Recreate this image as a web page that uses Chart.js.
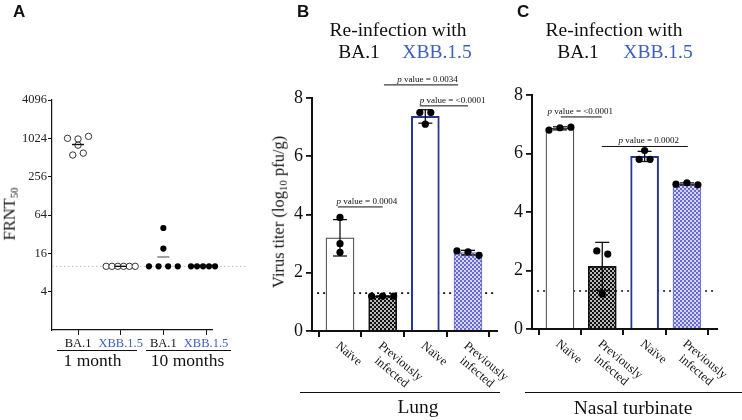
<!DOCTYPE html>
<html>
<head>
<meta charset="utf-8">
<script src="https://cdn.jsdelivr.net/npm/chart.js@4.4.1/dist/chart.umd.min.js"></script>
<style>
  body { margin: 0; background: #fff; }
  #wrap { position: relative; width: 742px; height: 420px; overflow: hidden; font-family: "Liberation Serif", serif; }
  #wrap canvas { position: absolute; left: 0; top: 0; }
  .t { position: absolute; white-space: nowrap; line-height: 1; color: #111; }
  .panel { font-family: "Liberation Sans", Arial, sans-serif; font-weight: bold; }
  .blue { color: #3f5fbf; }
  .rule { position: absolute; height: 0; border-top: 1.5px solid #111; }
  sub { font-size: 65%; vertical-align: -0.25em; line-height: 0; }
</style>
</head>
<body>
<div id="wrap">
  <canvas id="chartA" width="742" height="420"></canvas>
  <canvas id="chartB" width="742" height="420"></canvas>
  <canvas id="chartC" width="742" height="420"></canvas>
</div>
<script>
// ---- data ----
const groupsA = ['BA.1', 'XBB.1.5', 'BA.1', 'XBB.1.5'];
const periodsA = ['1 month', '10 months'];
const frntBA1_1m = [1024, 560, 1000, 800, 600, 1100];
const frntXBB_1m = [10, 10, 10, 10, 10, 10];
const frntBA1_10m = [10, 10, 10, 10, 40, 19];
const frntXBB_10m = [10, 10, 10, 10, 10, 10];
const frntTicks = [4, 16, 64, 256, 1024, 4096];
const frntLimit = 10;

const titerGroups = ['Naïve', 'Previously infected', 'Naïve', 'Previously infected'];
const lungNaiveBA1 = [3.9, 3.0, 2.7];
const lungPrevBA1 = [1.2, 1.2, 1.2];
const lungNaiveXBB = [7.5, 7.5, 7.1];
const lungPrevXBB = [2.75, 2.72, 2.6];
const nasalNaiveBA1 = [6.8, 6.88, 6.9];
const nasalPrevBA1 = [2.67, 2.56, 1.2];
const nasalNaiveXBB = [5.8, 6.1, 5.8];
const nasalPrevXBB = [4.95, 5.0, 4.93];
const titerTicks = [0, 2, 4, 6, 8];
const titerLimit = 1.3;
const lungPValues = ['0.0004', '0.0034', '<0.0001'];
const nasalPValues = ['<0.0001', '0.0002'];

// ---- helpers ----
const BLUE = '#3f5fbf';
const SERIF = '"Liberation Serif", serif';
const mean = a => a.reduce((s, v) => s + v, 0) / a.length;
const sd = a => { const m = mean(a); return Math.sqrt(a.reduce((s, v) => s + (v - m) ** 2, 0) / (a.length - 1)); };
const gmean = a => Math.exp(mean(a.map(Math.log)));

// spread points with near-equal values sideways (simple column scatter)
function spread(values, key, tol, step) {
  const clusters = [];
  const slots = values.map(v => {
    const k = key(v);
    let c = clusters.find(c => c.some(m => Math.abs(m - k) <= tol));
    if (!c) { c = []; clusters.push(c); }
    c.push(k);
    return [c, c.length - 1];
  });
  return slots.map(([c, j]) => (j - (c.length - 1) / 2) * step);
}

function pad(area, yW, xH) {
  return { left: area[0] - yW, top: area[1], right: 742 - area[2], bottom: 420 - area[3] - xH };
}

function checker(canvasId, fg, bg) {
  const c = document.createElement('canvas');
  c.width = c.height = 4;
  const g = c.getContext('2d');
  if (bg) { g.fillStyle = bg; g.fillRect(0, 0, 4, 4); }
  g.fillStyle = fg;
  g.fillRect(0, 0, 2, 2);
  g.fillRect(2, 2, 2, 2);
  return document.getElementById(canvasId).getContext('2d').createPattern(c, 'repeat');
}

function txt(html, x, base, size, cls, align) {
  const d = document.createElement('div');
  d.className = 't ' + (cls || '');
  d.innerHTML = html;
  d.style.fontSize = size + 'px';
  d.style.left = x + 'px';
  d.style.top = (base - 0.84 * size) + 'px';
  if (align !== 'left') d.style.transform = 'translateX(-50%)';
  document.getElementById('wrap').appendChild(d);
}
function vtxt(html, cx, cy, size) {
  const d = document.createElement('div');
  d.className = 't';
  d.innerHTML = html;
  d.style.fontSize = size + 'px';
  d.style.left = cx + 'px';
  d.style.top = cy + 'px';
  d.style.transform = 'translate(-50%, -50%) rotate(-90deg)';
  document.getElementById('wrap').appendChild(d);
}
function rule(x1, x2, y) {
  const d = document.createElement('div');
  d.className = 'rule';
  d.style.left = x1 + 'px';
  d.style.width = (x2 - x1) + 'px';
  d.style.top = y + 'px';
  document.getElementById('wrap').appendChild(d);
}

const axisGrid = (len, w) => ({ display: true, drawOnChartArea: false, drawTicks: true, tickLength: len, color: '#111', lineWidth: w });

// ---- panel A ----
const pxA = 42.67;
const stepsA = [10.5, 5.8, 9.6, 6].map(p => p / pxA);
const seriesA = [frntBA1_1m, frntXBB_1m, frntBA1_10m, frntXBB_10m];
const pointsA = seriesA.map((vals, g) => {
  const off = spread(vals, v => Math.log2(v), 0.2, stepsA[g]);
  return vals.map((v, i) => ({ x: g + off[i], y: v }));
});

new Chart(document.getElementById('chartA'), {
  type: 'scatter',
  data: {
    datasets: [
      { data: seriesA.map((v, g) => ({ x: g, y: gmean(v) })), pointStyle: 'line', pointRadius: 6,
        pointBorderWidth: 1.4, pointBorderColor: ['#111', '#111', '#777', '#111'], clip: false },
      { data: pointsA[0].concat(pointsA[1]), pointRadius: 3.2, pointBackgroundColor: '#fff',
        pointBorderColor: '#333', pointBorderWidth: 1, clip: false },
      { data: pointsA[2].concat(pointsA[3]), pointRadius: 3.1, pointBackgroundColor: '#000',
        pointBorderColor: '#000', pointBorderWidth: 0, clip: false },
      { type: 'line', data: [{ x: -0.61, y: frntLimit }, { x: 3.98, y: frntLimit }], borderColor: '#bbb',
        borderWidth: 1, borderDash: [1.5, 2.5], pointRadius: 0, clip: false }
    ]
  },
  options: {
    responsive: false, animation: false,
    layout: { padding: pad([52, 100, 212, 330], 40, 30) },
    plugins: { legend: { display: false }, tooltip: { enabled: false } },
    scales: {
      x: {
        type: 'linear', min: -0.61, max: 3.14,
        afterBuildTicks: s => { s.ticks = [0, 1, 2, 3].map(v => ({ value: v })); },
        afterFit: s => { s.height = 30; },
        ticks: { autoSkip: false, maxRotation: 0, padding: 1, callback: (v, i) => groupsA[i],
          color: c => (c.index % 2 ? BLUE : '#111'), font: { family: SERIF, size: 12.5 } },
        grid: axisGrid(5, 1), border: { color: '#111', width: 1.2 }
      },
      y: {
        type: 'logarithmic', min: 1, max: 4096,
        afterBuildTicks: s => { s.ticks = frntTicks.map(v => ({ value: v })); },
        afterFit: s => { s.width = 40; },
        ticks: { callback: v => String(v), padding: 1, color: '#222', font: { family: SERIF, size: 12.5 } },
        grid: axisGrid(4, 1), border: { color: '#111', width: 1.2 }
      }
    }
  }
});

// ---- panels B and C ----
const titerLabels = {
  id: 'titerLabels',
  afterDraw(chart, args, opts) {
    const { ctx, chartArea } = chart;
    const x = chart.scales.x, y = chart.scales.y;
    ctx.save();
    ctx.fillStyle = '#111';
    ctx.textBaseline = 'alphabetic';
    ctx.font = '12.5px ' + SERIF;
    titerGroups.forEach((g, i) => {
      const lines = g.split(' ');
      const w = Math.max(...lines.map(l => ctx.measureText(l).width));
      ctx.save();
      ctx.translate(x.getPixelForValue(i) + 1, chartArea.bottom + 9);
      ctx.rotate(40 * Math.PI / 180);
      ctx.textAlign = 'center';
      lines.forEach((l, j) => ctx.fillText(l, w / 2, 9 + j * 14));
      ctx.restore();
    });
    opts.brackets.forEach(b => {
      const x1 = x.getPixelForValue(b.x1), x2 = x.getPixelForValue(b.x2), py = y.getPixelForValue(b.y);
      ctx.strokeStyle = '#111';
      ctx.lineWidth = 1;
      ctx.beginPath(); ctx.moveTo(x1, py); ctx.lineTo(x2, py); ctx.stroke();
      const rest = ' value = ' + b.label;
      ctx.font = 'italic 9px ' + SERIF;
      const wp = ctx.measureText('p').width;
      ctx.font = '9px ' + SERIF;
      const wr = ctx.measureText(rest).width;
      const sx = x.getPixelForValue(b.tx) - (wp + wr) / 2;
      ctx.textAlign = 'left';
      ctx.font = 'italic 9px ' + SERIF;
      ctx.fillText('p', sx, py - 3);
      ctx.font = '9px ' + SERIF;
      ctx.fillText(rest, sx + wp, py - 3);
    });
    ctx.restore();
  }
};

function titerChart(id, area, xMin, xMax, series, brackets) {
  const step = 11 / 42.5;
  const dots = [];
  series.forEach((vals, g) => {
    const off = spread(vals, v => v, 0.25, step);
    vals.forEach((v, i) => dots.push({ x: g + off[i], y: v }));
  });
  const errBars = series.map((vals, g) => {
    const m = mean(vals), s = sd(vals);
    return { type: 'line', data: [{ x: g, y: m - s }, { x: g, y: m + s }], borderColor: '#111', borderWidth: 1.3,
      pointStyle: 'line', pointRadius: 7, pointBorderWidth: 1.3, pointBorderColor: '#111', clip: false };
  });
  new Chart(document.getElementById(id), {
    type: 'scatter',
    data: {
      datasets: [
        { data: dots, pointRadius: 3.6, pointBackgroundColor: '#000', pointBorderWidth: 0, clip: false },
        ...errBars,
        { type: 'bar', data: series.map((v, g) => ({ x: g, y: mean(v) })), barThickness: 28,
          backgroundColor: ['#fff', checker(id, '#111', 'rgba(0,0,0,0.28)'), '#fff', checker(id, '#6a6ad4', '#d4d4f4')],
          borderColor: ['#444', '#111', '#2a3399', '#6a6ac8'], borderWidth: [1.2, 1, 2, 1] },
        { type: 'line', data: [{ x: xMin + 0.12, y: titerLimit }, { x: xMax, y: titerLimit }], borderColor: '#111',
          borderWidth: 1.6, borderDash: [2, 4], pointRadius: 0 }
      ]
    },
    options: {
      responsive: false, animation: false,
      layout: { padding: pad(area, 50, 20) },
      plugins: { legend: { display: false }, tooltip: { enabled: false }, titerLabels: { brackets } },
      scales: {
        x: {
          type: 'linear', min: xMin, max: xMax, offset: false,
          afterBuildTicks: s => { s.ticks = [0, 1, 2, 3].map(v => ({ value: v })); },
          afterFit: s => { s.height = 20; },
          ticks: { display: false },
          grid: axisGrid(6, 2), border: { color: '#111', width: 2 }
        },
        y: {
          min: 0, max: 8,
          afterBuildTicks: s => { s.ticks = titerTicks.map(v => ({ value: v })); },
          afterFit: s => { s.width = 50; },
          ticks: { padding: 3, color: '#111', font: { family: SERIF, size: 18 } },
          grid: axisGrid(6, 1.8), border: { color: '#111', width: 2 }
        }
      }
    },
    plugins: [titerLabels]
  });
}

titerChart('chartB', [312, 98, 497, 331], -0.656, 3.68,
  [lungNaiveBA1, lungPrevBA1, lungNaiveXBB, lungPrevXBB],
  [{ x1: -0.05, x2: 1.0, y: 4.26, tx: 0.63 }, { x1: 1.03, x2: 2.77, y: 8.45, tx: 2.05 }, { x1: 1.87, x2: 3.0, y: 7.73, tx: 2.64 }]
    .map((b, i) => ({ ...b, label: lungPValues[i] })));

titerChart('chartC', [532, 95, 717, 329], -0.66, 3.71,
  [nasalNaiveBA1, nasalPrevBA1, nasalNaiveXBB, nasalPrevXBB],
  [{ x1: 0.02, x2: 0.99, y: 7.25, tx: 0.48 }, { x1: 0.99, x2: 3.02, y: 6.24, tx: 2.1 }]
    .map((b, i) => ({ ...b, label: nasalPValues[i] })));

// ---- free text ----
txt('A', 13, 17.2, 17, 'panel', 'left');
txt('B', 297, 17.2, 17, 'panel', 'left');
txt('C', 517, 17.2, 17, 'panel', 'left');

txt('Re-infection with', 398, 36, 19.5);
txt('BA.1', 359, 58, 19.5);
txt('XBB.1.5', 437, 58, 19.5, 'blue');
txt('Re-infection with', 614, 36, 19.5);
txt('BA.1', 578, 58.5, 19.5);
txt('XBB.1.5', 658, 58.5, 19.5, 'blue');

vtxt('FRNT<sub>50</sub>', 9.5, 214, 16.5);
vtxt('Virus titer (log<sub>10</sub> pfu/g)', 279.4, 212, 16.5);

rule(57, 137, 350);
rule(146, 231, 350);
txt(periodsA[0], 92.5, 366.5, 17.5);
txt(periodsA[1], 187.5, 366.5, 17.5);

rule(300, 500, 392);
rule(525, 742, 392);
txt('Lung', 418, 413, 19.5);
txt('Nasal turbinate', 633, 414, 19.5);
</script>
</body>
</html>
